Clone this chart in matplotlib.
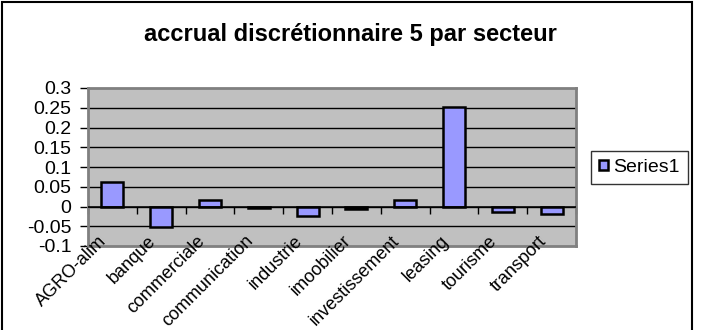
import numpy as np
import matplotlib
matplotlib.use("Agg")
import matplotlib.pyplot as plt
from matplotlib.patches import Rectangle
from matplotlib.transforms import blended_transform_factory, ScaledTranslation

categories = ["AGRO-alim", "banque", "commerciale", "communication", "industrie",
              "imoobilier", "investissement", "leasing", "tourisme", "transport"]
values = [0.062, -0.051, 0.016, -0.003, -0.025, -0.007, 0.016, 0.252, -0.013, -0.020]
y_ticks = [-0.1, -0.05, 0, 0.05, 0.1, 0.15, 0.2, 0.25, 0.3]
y_tick_labels = ["-0.1", "-0.05", "0", "0.05", "0.1", "0.15", "0.2", "0.25", "0.3"]
title = "accrual discrétionnaire 5 par secteur"
series_name = "Series1"

plt.rcParams['font.family'] = ['Liberation Sans', 'DejaVu Sans']

W, H = 704, 330
fig = plt.figure(figsize=(W / 100, H / 100), dpi=100)
fig.patch.set_facecolor('white')

# outer chart border
fig.add_artist(Rectangle((2 / W, -0.02), 690 / W, 1.02 - 1.5 / H, transform=fig.transFigure,
                         fill=False, edgecolor='black', linewidth=1.5))

ax = fig.add_axes([88 / W, 1 - 246 / H, (576 - 88) / W, (246 - 88) / H])
ax.set_facecolor('#c0c0c0')
ymin, ymax = -0.1, 0.3
ax.set_ylim(ymin, ymax)
n = len(categories)
x = np.arange(n)
ax.set_xlim(-0.5, n - 0.5)

ax.set_yticks(y_ticks)
ax.set_yticklabels(y_tick_labels)
ax.tick_params(axis='y', direction='out', length=6, width=1, color='black', pad=6,
               labelsize=14)
for yv in y_ticks[1:-1]:
    ax.axhline(yv, color='black', linewidth=1, zorder=1)
ax.axhline(0, color='black', linewidth=1.2, zorder=3)

ax.bar(x, values, width=0.45, color='#9999ff', edgecolor='black', linewidth=1.8,
       zorder=2, label=series_name)

for sp in ax.spines.values():
    sp.set_color('#808080')
    sp.set_linewidth(2)

# category tick marks on the zero line
ax.set_xticks([])
sec = ax.secondary_xaxis((0 - ymin) / (ymax - ymin))
sec.set_xticks(np.arange(-0.5, n, 1.0))
sec.set_xticklabels([])
sec.tick_params(direction='out', length=5, width=1, color='black')
sec.spines['bottom'].set_visible(False)

# category labels (Excel style, overlapping the bottom of the plot area)
trans = blended_transform_factory(ax.transData, ax.transAxes) + \
    ScaledTranslation(-14 / 100, 13.5 / 100, fig.dpi_scale_trans)
for xi, lab in zip(x, categories):
    ax.text(xi, 0, lab, transform=trans, rotation=45, rotation_mode='anchor',
            ha='right', va='top', fontsize=13, color='black', zorder=5,
            clip_on=False)

fig.text(350 / W, 1 - 35 / H, title, ha='center', va='center', fontsize=17,
         fontweight='bold')

leg = ax.legend(loc='center left', bbox_to_anchor=(591 / W, 1 - 167.5 / H),
                bbox_transform=fig.transFigure, fontsize=14, frameon=True,
                fancybox=False, edgecolor='black', borderpad=0.42,
                handlelength=0.47, handleheight=0.47, handletextpad=0.25,
                borderaxespad=0)
leg.get_frame().set_linewidth(1)

fig.savefig("out.png", dpi=100)
